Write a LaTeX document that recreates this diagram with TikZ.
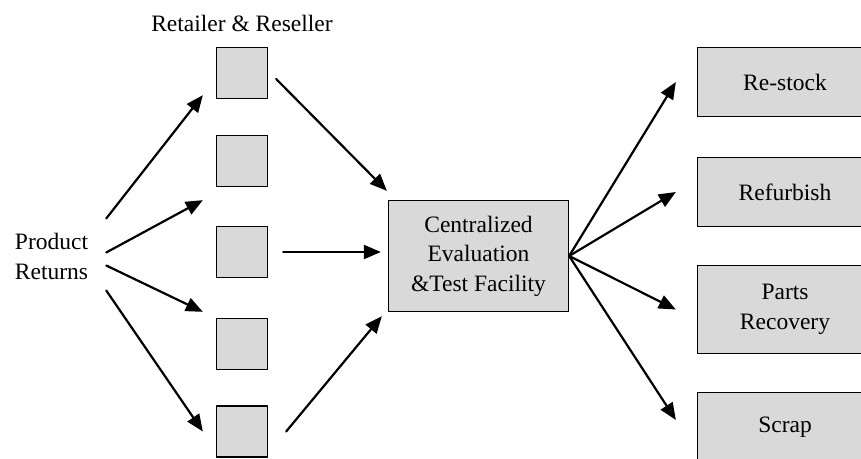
\documentclass[tikz,border=0pt]{standalone}
\usepackage{fontspec}
\setmainfont{Liberation Serif}
\usetikzlibrary{arrows.meta}
\definecolor{boxgray}{RGB}{217,217,217}
\begin{document}
\begin{tikzpicture}[line cap=round,line join=round,>={Triangle[length=17pt,width=14pt]},x=1.0pt,y=1.0pt,
box/.style={draw=black,line width=1.3pt,fill=boxgray,inner sep=0pt,align=center,font=\fontsize{23.5}{29.5}\selectfont},
txt/.style={inner sep=0pt,align=left,font=\fontsize{23.5}{29.5}\selectfont},
flow/.style={->,line width=2.2pt}]
\useasboundingbox (0,0) rectangle (861,458);
\clip (0,0) rectangle (861,458);
\node[txt] (ret) at (51.5,201.5) {Product\\Returns};
\node[txt,anchor=base] (rr) at (242,426) {Retailer \& Reseller};
\foreach \i/\y in {1/385,2/297,3/206,4/114,5/26.5}
\node[box,minimum width=51pt,minimum height=51pt] (s\i) at (242,\y) {};
\node[box,minimum width=180pt,minimum height=111pt] (cen) at (478.5,202) {Centralized\\Evaluation\\\&Test Facility};
\node[box,minimum width=175pt,minimum height=69pt] (stock) at (785,376) {Re-stock};
\node[box,minimum width=175pt,minimum height=69pt] (refurb) at (785,266) {Refurbish};
\node[box,minimum width=175pt,minimum height=88pt] (parts) at (785,148.5) {Parts\\Recovery};
\node[box,minimum width=175pt,minimum height=69pt] (scrap) at (785,31) {Scrap};
\draw[flow] ([xshift=18pt,yshift=38pt]ret.east) -- ([xshift=-13pt,yshift=4pt]s1.south west);
\draw[flow] ([xshift=18pt,yshift=4pt]ret.east) -- ([xshift=-13pt,yshift=-13pt]s2.south west);
\draw[flow] ([xshift=18pt,yshift=-9pt]ret.east) -- ([xshift=-13pt,yshift=6pt]s4.north west);
\draw[flow] ([xshift=18pt,yshift=-34pt]ret.east) -- ([xshift=-13pt]s5.west);
\draw[flow] ([xshift=8pt,yshift=-6pt]s1.east) -- ([xshift=-1pt,yshift=9pt]cen.north west);
\draw[flow] ([xshift=15pt]s3.east) -- ([xshift=-7pt,yshift=4pt]cen.west);
\draw[flow] ([xshift=18pt]s5.east) -- ([xshift=-6pt,yshift=-4pt]cen.south west);
\foreach \b/\d in {stock/0,refurb/0,parts/0,scrap/7}
\draw[flow] (cen.east) -- ([xshift=-21pt,yshift=\d pt]\b.west);
\end{tikzpicture}
\end{document}
